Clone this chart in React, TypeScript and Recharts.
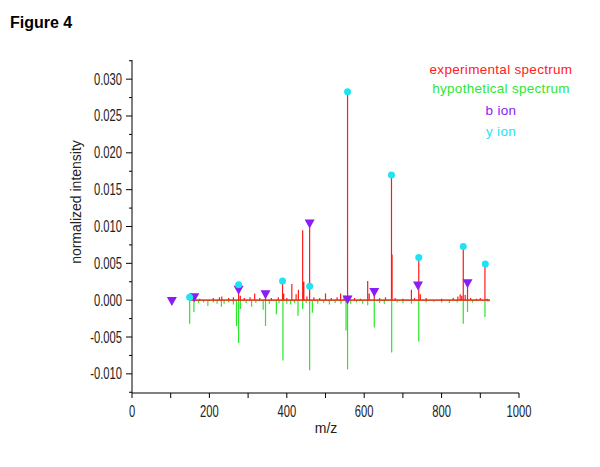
import { ComposedChart, Line, Scatter, XAxis, YAxis } from "recharts";

// peak lists: [m/z, normalized intensity]
const experimental: [number, number][] = [
  [175, 0.0002], [210, 0.0003], [226, 0.0004], [232, 0.0005], [250, 0.0003], [262, 0.0004],
  [275.5, 0.0021], [280, 0.0006], [290, 0.0003], [305, 0.0004], [317, 0.0009], [330, 0.0003],
  [345, 0.0008], [360, 0.0003], [378, 0.0004], [389, 0.0026], [392, 0.0009], [400, 0.0003],
  [413, 0.0022], [424, 0.0008], [430, 0.0014], [441, 0.0095], [444, 0.0025], [452, 0.0005],
  [459, 0.0103], [470, 0.0004], [485, 0.0003], [500, 0.0009], [515, 0.0003], [530, 0.0004],
  [539, 0.0009], [548, 0.0006], [557, 0.0283], [562, 0.0006], [575, 0.0003], [590, 0.0002],
  [609, 0.0026], [613, 0.0009], [626, 0.0011], [640, 0.0003], [655, 0.0004], [670.5, 0.017],
  [672, 0.0062], [680, 0.0003], [700, 0.0002], [722, 0.0014], [730, 0.0003], [741, 0.0058],
  [745, 0.0008], [760, 0.0003], [800, 0.0002], [830, 0.0003], [842, 0.0005], [848, 0.0008],
  [852, 0.0006], [856, 0.0073], [861, 0.0007], [867, 0.002], [875, 0.0003], [890, 0.0002],
  [900, 0.0003], [912, 0.0049], [918, 0.0002],
];

const hypothetical: [number, number][] = [
  [149, -0.0032], [160, -0.0016], [172, -0.0004], [185, -0.0003], [196, -0.0008], [210, -0.0003],
  [220, -0.0005], [231, -0.0009], [238, -0.0005], [250, -0.0003], [262, -0.0006], [270, -0.0035],
  [275.5, -0.0058], [280, -0.0012], [295, -0.0004], [309, -0.0009], [320, -0.0004], [339, -0.0013],
  [345, -0.0035], [355, -0.0005], [373, -0.0019], [380, -0.0004], [390, -0.0082], [400, -0.0005],
  [410, -0.0006], [420, -0.0004], [429, -0.0021], [441, -0.0012], [450, -0.0004], [459, -0.0095],
  [466, -0.0017], [480, -0.0005], [495, -0.0004], [510, -0.0006], [525, -0.0004], [540, -0.0005],
  [553, -0.0041], [557, -0.0094], [565, -0.0005], [580, -0.0003], [596, -0.0005], [609, -0.0007],
  [626, -0.0037], [640, -0.0004], [652, -0.0005], [671, -0.0071], [685, -0.0003], [700, -0.0004],
  [722, -0.0005], [741, -0.0056], [760, -0.0003], [780, -0.0002], [800, -0.0003], [820, -0.0004],
  [840, -0.0003], [856, -0.0032], [867, -0.0016], [880, -0.0003], [912, -0.0023], [920, -0.0002],
];

const bIons: [number, number][] = [
  [103, -0.0001], [161, 0.0004], [275.5, 0.0014], [345, 0.0008], [459, 0.0104],
  [557, 0.0001], [626, 0.0011], [739, 0.002], [867, 0.0023],
];

const yIons: [number, number][] = [
  [149, 0.0004], [275.5, 0.0021], [389, 0.0026], [459, 0.0019], [557, 0.0283],
  [670.5, 0.017], [741, 0.0058], [856, 0.0073], [913, 0.0049],
];

const xTicks = [0, 100, 200, 300, 400, 500, 600, 700, 800, 900, 1000];
const xLabelled = [0, 200, 400, 600, 800, 1000];
const yTicks = [
  -0.0125, -0.01, -0.0075, -0.005, -0.0025, 0, 0.0025, 0.005, 0.0075, 0.01, 0.0125,
  0.015, 0.0175, 0.02, 0.0225, 0.025, 0.0275, 0.03, 0.0325,
];
const yLabelled = [-0.01, -0.005, 0, 0.005, 0.01, 0.015, 0.02, 0.025, 0.03];

// stick spectrum drawn as one polyline that drops back to zero after each peak
const sticks = (peaks: [number, number][], from: number, to: number) => {
  const pts = [{ mz: from, v: 0 }];
  peaks.forEach(([mz, v]) => pts.push({ mz, v: 0 }, { mz, v }, { mz, v: 0 }));
  pts.push({ mz: to, v: 0 });
  return pts;
};
const toPoints = (list: [number, number][]) => list.map(([mz, v]) => ({ mz, v }));

const isIn = (list: number[], v: number) => list.some((t) => Math.abs(t - v) < 1e-9);

const XTick = (props: any) => {
  const { x, y, payload } = props;
  const major = isIn(xLabelled, payload.value);
  return (
    <g>
      <line x1={x} x2={x} y1={y} y2={y + 5} stroke="#000" />
      {major && (
        <text transform={`translate(${x},${y + 24}) scale(0.7,1)`} textAnchor="middle" fontSize={16} fill="#222" fontFamily="Arial, Liberation Sans, sans-serif">
          {payload.value}
        </text>
      )}
    </g>
  );
};

const YTick = (props: any) => {
  const { x, y, payload } = props;
  const major = isIn(yLabelled, payload.value);
  return (
    <g>
      <line x1={x - (major ? 6 : 3)} x2={x} y1={y} y2={y} stroke="#000" />
      {major && (
        <text transform={`translate(${x - 10},${y + 5.5}) scale(0.7,1)`} textAnchor="end" fontSize={16} fill="#222" fontFamily="Arial, Liberation Sans, sans-serif">
          {payload.value.toFixed(3)}
        </text>
      )}
    </g>
  );
};

const Triangle = (props: any) => {
  const { cx, cy } = props;
  return <polygon points={`${cx - 5},${cy - 4} ${cx + 5},${cy - 4} ${cx},${cy + 5}`} fill="#8a1cf5" />;
};

const Dot = (props: any) => {
  const { cx, cy } = props;
  return <circle cx={cx} cy={cy} r={3.5} fill="#1fe3f2" />;
};

const legendStyle = {
  position: "absolute" as const,
  width: 200,
  left: 401,
  textAlign: "center" as const,
  fontSize: 13.5,
  fontFamily: "Arial, Liberation Sans, sans-serif",
  letterSpacing: 0.3,
};

export default function App() {
  return (
    <div style={{ position: "absolute", left: 0, top: 0, width: 600, height: 467, background: "#fff" }}>
      <div style={{ position: "absolute", left: 10, top: 14, fontSize: 16, fontWeight: "bold", fontFamily: "Arial, Liberation Sans, sans-serif" }}>
        Figure 4
      </div>

      <ComposedChart width={600} height={467} margin={{ top: 60, right: 81, left: 72, bottom: 44 }}>
        <XAxis
          type="number"
          dataKey="mz"
          domain={[0, 1000]}
          ticks={xTicks}
          tick={<XTick />}
          tickLine={false}
          tickSize={0}
          tickMargin={0}
          height={30}
          axisLine={{ stroke: "#000" }}
          allowDataOverflow
        />
        <YAxis
          type="number"
          dataKey="v"
          domain={[-0.0126, 0.0326]}
          ticks={yTicks}
          tick={<YTick />}
          tickLine={false}
          tickSize={0}
          tickMargin={0}
          width={60}
          axisLine={{ stroke: "#000" }}
          interval={0}
          allowDataOverflow
        />
        <Line data={sticks(hypothetical, 149, 925)} dataKey="v" type="linear" stroke="#2be62b" strokeWidth={1.2} dot={false} activeDot={false} isAnimationActive={false} />
        <Line data={sticks(experimental, 153, 925)} dataKey="v" type="linear" stroke="#ff1a1a" strokeWidth={1.2} dot={false} activeDot={false} isAnimationActive={false} />
        <Scatter data={toPoints(bIons)} dataKey="v" shape={<Triangle />} isAnimationActive={false} />
        <Scatter data={toPoints(yIons)} dataKey="v" shape={<Dot />} isAnimationActive={false} />
      </ComposedChart>

      <div style={{ position: "absolute", left: 76, top: 202, transform: "translate(-50%, -50%) rotate(-90deg)", whiteSpace: "nowrap", fontSize: 14, color: "#222", fontFamily: "Arial, Liberation Sans, sans-serif" }}>
        normalized intensity
      </div>
      <div style={{ position: "absolute", left: 326, top: 420, transform: "translateX(-50%)", fontSize: 14, color: "#222", fontFamily: "Arial, Liberation Sans, sans-serif" }}>
        m/z
      </div>

      <div style={{ ...legendStyle, top: 62, color: "#ff2020" }}>experimental spectrum</div>
      <div style={{ ...legendStyle, top: 81, color: "#2ee62e" }}>hypothetical spectrum</div>
      <div style={{ ...legendStyle, top: 103, color: "#8a1cf5" }}>b ion</div>
      <div style={{ ...legendStyle, top: 124, color: "#1fe3f2" }}>y ion</div>
    </div>
  );
}
